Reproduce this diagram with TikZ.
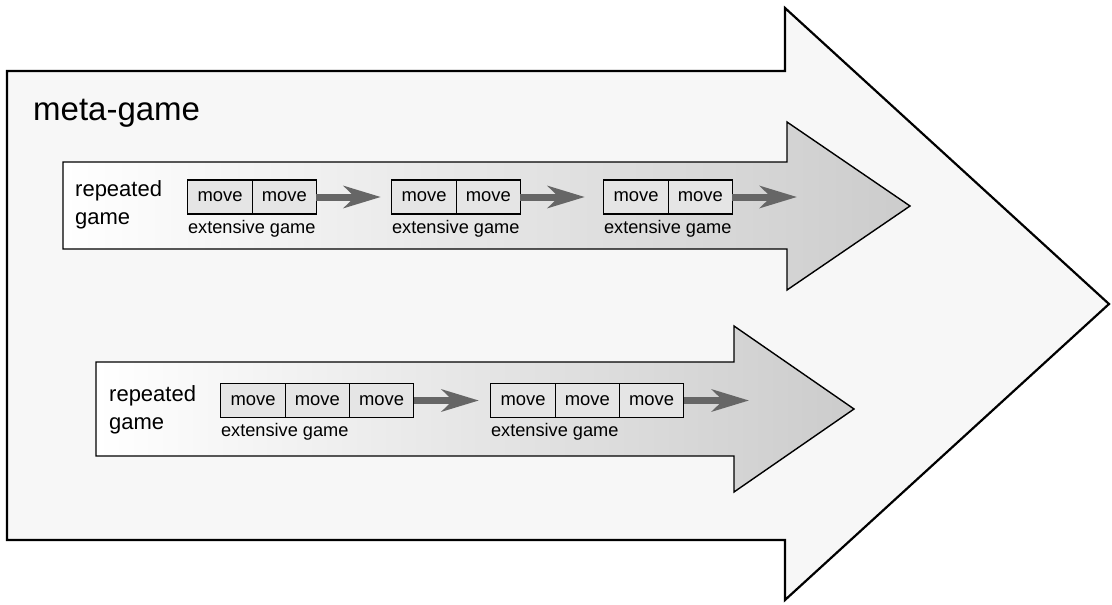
\documentclass[tikz,border=0pt]{standalone}
\usepackage{fontspec}
\setmainfont{Liberation Sans}
\usepackage{tikz}
\usetikzlibrary{positioning}
\usetikzlibrary{arrows.meta}

\begin{document}
\begin{tikzpicture}[x=1pt, y=-1pt, node distance=0pt,
        bigarrow/.style={draw=black, line width=2.2pt, fill=black!3},
        gamearrow/.style={draw=black, line width=1.4pt, left color=white, right color=black!20},
        movebox/.style={draw=black, line width=1.2pt, fill=black!10, minimum width=64.3pt,
          minimum height=34pt, inner sep=0pt, outer sep=0pt, font=\fontsize{18.4}{20}\selectfont},
        el/.style={inner sep=0pt, anchor=base west, font=\fontsize{18.2}{20}\selectfont},
        rg/.style={inner sep=0pt, anchor=west, align=left, font=\fontsize{22}{28}\selectfont},
        flow/.style={draw=black!60, line width=7pt, -{Stealth[length=37pt, width=22pt, inset=11pt]}}]

        \useasboundingbox (0,0) rectangle (1112,605);

        \draw[bigarrow] (7,71) -- (785,71) -- (785,8) -- (1109,304) -- (785,600) -- (785,540) -- (7,540) -- cycle;
        \draw[gamearrow] (63,162) -- (787,162) -- (787,122) -- (910,206) -- (787,290) -- (787,249) -- (63,249) -- cycle;
        \draw[gamearrow] (96,362) -- (734,362) -- (734,326) -- (854,409) -- (734,492) -- (734,456) -- (96,456) -- cycle;

        \node[inner sep=0pt, anchor=base west, font=\fontsize{33}{40}\selectfont] (meta) at (33,120) {meta-game};

        \node[rg] (rep1) at (75,205) {repeated\\game};
        \node[rg] (rep2) at (109,410) {repeated\\game};

        \node[movebox] (a11) at (220,197) {move};
        \node[movebox] (a12) [right=of a11] {move};
        \node[movebox] (a21) at (424,197) {move};
        \node[movebox] (a22) [right=of a21] {move};
        \node[movebox] (a31) at (636,197) {move};
        \node[movebox] (a32) [right=of a31] {move};

        \node[movebox] (b11) at (253,400.5) {move};
        \node[movebox] (b12) [right=of b11] {move};
        \node[movebox] (b13) [right=of b12] {move};
        \node[movebox] (b21) at (523,400.5) {move};
        \node[movebox] (b22) [right=of b21] {move};
        \node[movebox] (b23) [right=of b22] {move};

        \node[el] (ea1) at ([yshift=-19pt]a11.south west) {extensive game};
        \node[el] (ea2) at ([yshift=-19pt]a21.south west) {extensive game};
        \node[el] (ea3) at ([yshift=-19pt]a31.south west) {extensive game};
        \node[el] (eb1) at ([yshift=-19pt]b11.south west) {extensive game};
        \node[el] (eb2) at ([yshift=-19pt]b21.south west) {extensive game};

        \coordinate (aend) at (797,197);
        \coordinate (bend) at (749,400.5);

        \path[flow]
        (a12) edge [shorten >=11pt] (a21)
        (a22) edge [shorten >=19pt] (a31)
        (a32) edge [] (aend)

        (b13) edge [shorten >=12pt] (b21)
        (b23) edge [] (bend);

      \end{tikzpicture}
\end{document}
